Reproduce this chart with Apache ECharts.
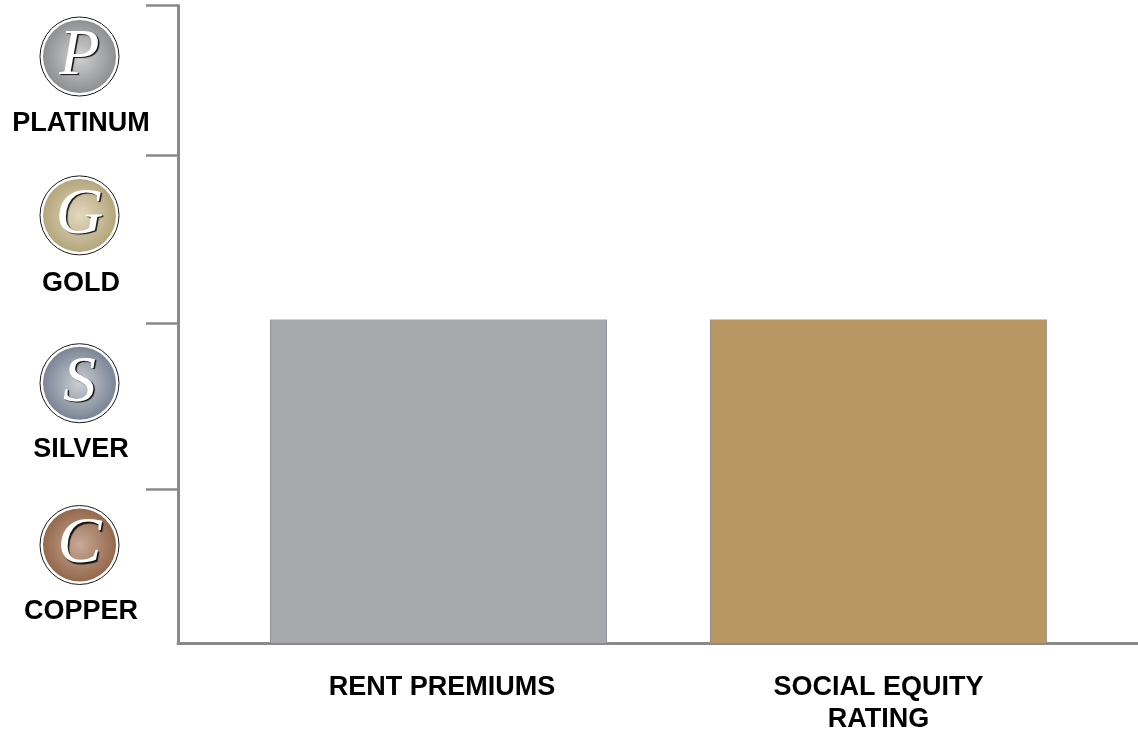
<!DOCTYPE html>
<html>
<head>
<meta charset="utf-8">
<style>html,body{margin:0;padding:0;background:#fff}#c{width:1138px;height:729px}</style>
<script src="https://cdn.jsdelivr.net/npm/echarts@6/dist/echarts.min.js"></script>
</head>
<body>
<div id="c"></div>
<script>
const categories = ['RENT PREMIUMS', 'SOCIAL EQUITY\nRATING'];
const categoryPositions = [0, 1];
const categoryLabelPositions = [0.008, 1];
const barValues = [2.03, 2.03];
const barColors = ['#a7a8ab', '#b89763'];
const tierTicks = [0.966, 2.006, 3.06, 4];
const tierNames = ['COPPER', 'SILVER', 'GOLD', 'PLATINUM'];
const tierLabelValues = [0.195, 1.213, 2.258, 3.257];
const badgeValues = [0.615, 1.63, 2.683, 3.68];
const badgeLetters = ['C', 'S', 'G', 'P'];
const badgeCenters = ['#c8a998', '#ccd0d5', '#e3d8bf', '#d2d2d3'];
const badgeEdges = ['#94694c', '#7a8595', '#b4a67c', '#8e8f91'];

const chart = echarts.init(document.getElementById('c'), null, {renderer: 'canvas'});
const LABEL_FONT = {fontFamily: '"Liberation Sans", Arial, sans-serif', fontWeight: 'bold', fontSize: 27, color: '#000'};
const xMin = -0.592, xMax = 1.59;

function barFill(base) {
  return new echarts.graphic.LinearGradient(0, 0, 1, 0, [
    {offset: 0, color: '#8e8f98'},
    {offset: 0.005, color: base},
    {offset: 0.995, color: base},
    {offset: 1, color: '#8e8f98'}
  ]);
}

chart.setOption({
  animation: false,
  grid: {left: 178, right: 0, top: 5.5, bottom: 86, outerBoundsMode: 'none'},
  xAxis: {
    type: 'value', min: xMin, max: xMax,
    splitLine: {show: false},
    axisLine: {show: true, onZero: false, lineStyle: {color: '#8a8a8c', width: 3}},
    axisTick: {show: false},
    axisLabel: {
      customValues: categoryLabelPositions,
      margin: 28,
      lineHeight: 32.5,
      formatter: (v, i) => categories[categoryLabelPositions.indexOf(v)],
      ...LABEL_FONT
    }
  },
  yAxis: {
    type: 'value', min: 0, max: 4,
    splitLine: {show: false},
    axisLine: {show: true, onZero: false, lineStyle: {color: '#8a8a8c', width: 3}},
    axisTick: {show: true, length: 32, customValues: tierTicks, lineStyle: {color: '#8a8a8c', width: 2.5}},
    axisLabel: {
      customValues: tierLabelValues,
      align: 'center',
      margin: 97,
      formatter: (v, i) => tierNames[tierLabelValues.indexOf(v)],
      ...LABEL_FONT
    }
  },
  series: [
    {
      type: 'bar',
      barWidth: 337,
      data: categoryPositions.map((x, i) => ({
        value: [x, barValues[i]],
        itemStyle: {color: barFill(barColors[i])}
      })),
      silent: true
    },
    {
      type: 'custom',
      coordinateSystem: 'cartesian2d',
      clip: false,
      silent: true,
      encode: {x: 0, y: 1},
      data: badgeValues.map((v, i) => [xMin, v, i]),
      renderItem: (params, api) => {
        const p = api.coord([api.value(0), api.value(1)]);
        const i = api.value(2);
        const cx = p[0] - 98.5, cy = p[1];
        return {
          type: 'group',
          children: [
            {type: 'circle', shape: {cx, cy, r: 39.5}, style: {fill: '#fff', stroke: '#1a1a1a', lineWidth: 1}},
            {type: 'circle', shape: {cx, cy, r: 36.5}, style: {
              fill: new echarts.graphic.RadialGradient(0.5, 0.5, 0.5, [
                {offset: 0, color: badgeCenters[i]},
                {offset: 1, color: badgeEdges[i]}
              ])
            }},
            {type: 'text', style: {
              x: cx, y: cy, text: badgeLetters[i], align: 'center', verticalAlign: 'middle',
              font: 'italic 66px "Liberation Serif", serif', fill: '#fff',
              textShadowColor: '#111', textShadowBlur: 1, textShadowOffsetX: 1.5, textShadowOffsetY: 1.5
            }}
          ]
        };
      }
    }
  ]
});
</script>
</body>
</html>
